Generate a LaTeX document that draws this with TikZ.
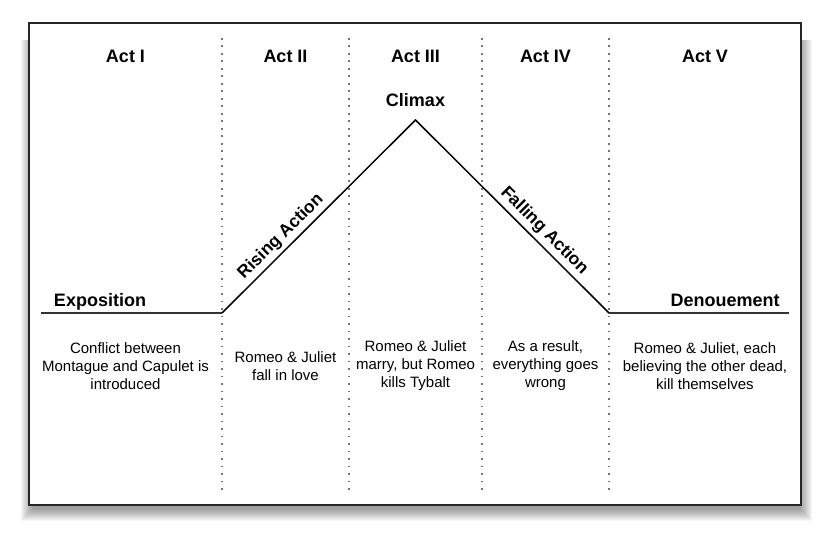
\documentclass[tikz,border=0pt]{standalone}
\usepackage{fontspec}
\setmainfont{Liberation Sans}
\begin{document}
\begin{tikzpicture}[x=1pt,y=-1pt,
  title/.style={font=\fontsize{18}{21}\selectfont\bfseries, inner sep=0pt},
  desc/.style={font=\fontsize{15}{18}\selectfont, align=center, inner sep=0pt},
  divider/.style={draw=black!55, line width=1.3pt, dash pattern=on 1.6pt off 5.9pt},
  plotline/.style={line width=1.5pt, draw=black, line join=miter},
  flatline/.style={line width=2pt, draw=black!80},
  slopelabel/.style={font=\fontsize{17.5}{20}\selectfont\bfseries, sloped, anchor=south, inner sep=3.5pt}]
\useasboundingbox (0,0) rectangle (829,540);
% shadow
\foreach \r in {1,...,13}{
  \fill[black, opacity=0.035] ({34-\r}, {40}) rectangle ({799+\r}, {508+\r});
}
% frame
\draw[line width=2pt, draw=black!85, fill=white] (29,23) rectangle (801,505);
% dividers
\foreach \x/\n in {222/1, 349/2, 482/3, 609/4}{
  \coordinate (dt\n) at (\x,38);
  \coordinate (db\n) at (\x,494);
  \draw[divider] (dt\n) -- (db\n);
}
% act titles
\node[title, anchor=base] (act1) at (125.5,63) {Act I};
\node[title, anchor=base] (act2) at (285.5,63) {Act II};
\node[title, anchor=base] (act3) at (415.5,63) {Act III};
\node[title, anchor=base] (act4) at (545.5,63) {Act IV};
\node[title, anchor=base] (act5) at (705,63) {Act V};
% plot
\coordinate (s0) at (41,313);
\coordinate (s1) at (222,313);
\coordinate (apex) at (415.5,120);
\coordinate (s2) at (609,313);
\coordinate (s3) at (789,313);
\draw[flatline] (s0) -- (s1);
\draw[flatline] (s2) -- (s3);
\draw[plotline] (s1) -- node[slopelabel, pos=0.35] (rising) {Rising Action} (apex)
                     -- node[slopelabel, pos=0.62] (falling) {Falling Action} (s2);
\node[title, anchor=base] (climax) at (415.5,107) {Climax};
\node[title, anchor=base] (expo) at (100,306) {Exposition};
\node[title, anchor=base] (deno) at (725,306) {Denouement};
% descriptions
\node[desc] (d1) at (125.5,366) {Conflict between\\Montague and Capulet is\\introduced};
\node[desc] (d2) at (285.5,366) {Romeo \& Juliet\\fall in love};
\node[desc] (d3) at (415.5,366) {Romeo \& Juliet\\marry, but Romeo\\kills Tybalt};
\node[desc] (d4) at (545.5,366) {As a result,\\everything goes\\wrong};
\node[desc] (d5) at (705,366) {Romeo \& Juliet, each\\believing the other dead,\\kill themselves};
\end{tikzpicture}
\end{document}
